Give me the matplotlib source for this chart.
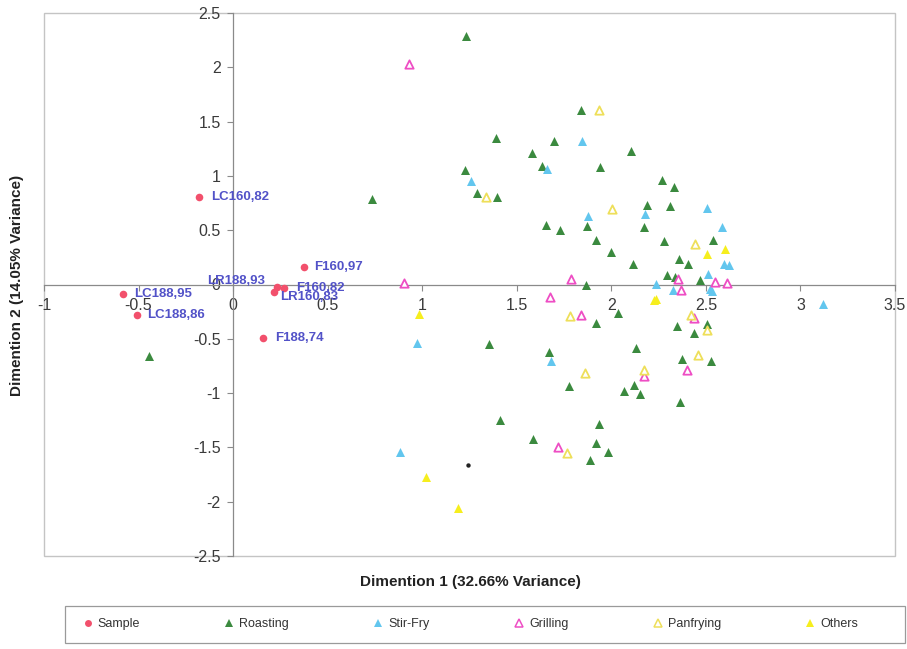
import matplotlib
matplotlib.use("Agg")
import matplotlib.pyplot as plt
from matplotlib.lines import Line2D
from matplotlib.patches import Rectangle
from matplotlib.ticker import FuncFormatter
import numpy as np

plt.rcParams['font.family'] = ['Liberation Sans', 'DejaVu Sans']
plt.rcParams['axes.unicode_minus'] = False

# ---- sample scores ----
sample_names = ["LC160,82", "F160,97", "LR188,93", "F160,82", "LR160,83",
                "LC188,95", "LC188,86", "F188,74"]
sample_x = [-0.180, 0.376, 0.231, 0.271, 0.217, -0.580, -0.510, 0.160]
sample_y = [0.808, 0.164, -0.026, -0.035, -0.072, -0.087, -0.281, -0.490]

# ---- cooking method scores ----
roasting_x = [1.231, 1.841, 1.389, 1.696, 1.581, 2.102, 1.634, 1.942, 1.228, 1.289,
              1.395, 0.737, 2.268, 2.333, 2.188, 2.308, 1.654, 1.731, 1.871, 2.174,
              1.921, 2.281, 2.538, 1.996, 2.113, 2.359, 2.404, 2.295, 2.339, 2.467,
              1.865, 2.034, 1.918, 2.347, 2.506, 2.436, 2.132, 1.351, 1.668, 2.374,
              2.528, 1.776, 2.119, 2.065, 2.152, 2.362, 1.409, 1.937, 1.586, 1.918,
              1.980, 1.887, -0.444]
roasting_y = [2.288, 1.607, 1.352, 1.320, 1.211, 1.225, 1.093, 1.085, 1.050, 0.840,
              0.803, 0.790, 0.962, 0.895, 0.732, 0.723, 0.548, 0.505, 0.536, 0.534,
              0.410, 0.398, 0.410, 0.299, 0.189, 0.235, 0.189, 0.090, 0.072, 0.044,
              -0.009, -0.267, -0.359, -0.385, -0.361, -0.442, -0.589, -0.548, -0.619, -0.688,
              -0.704, -0.935, -0.925, -0.978, -1.010, -1.080, -1.248, -1.286, -1.425, -1.459,
              -1.545, -1.619, -0.656]

stirfry_x = [1.845, 1.660, 1.258, 1.879, 2.176, 2.506, 2.586, 2.594, 2.621, 2.511,
             2.236, 2.325, 2.520, 2.534, 3.120, 0.975, 1.681, 0.880]
stirfry_y = [1.324, 1.064, 0.953, 0.631, 0.645, 0.704, 0.534, 0.193, 0.184, 0.099,
             0.005, -0.053, -0.041, -0.064, -0.182, -0.536, -0.702, -1.545]

grilling_x = [0.930, 0.902, 1.787, 2.354, 2.550, 2.612, 1.674, 2.370, 1.840, 2.436,
              2.401, 2.171, 1.716]
grilling_y = [2.028, 0.017, 0.055, 0.055, 0.023, 0.014, -0.118, -0.052, -0.278, -0.311,
              -0.785, -0.841, -1.494]

panfrying_x = [1.935, 1.339, 2.005, 2.444, 1.783, 2.422, 2.506, 2.459, 2.171, 1.861, 1.766]
panfrying_y = [1.607, 0.808, 0.695, 0.376, -0.290, -0.284, -0.422, -0.652, -0.790, -0.815, -1.556]

others_x = [2.504, 2.603, 2.228, 2.235, 0.984, 1.020, 1.187]
others_y = [0.284, 0.324, -0.147, -0.129, -0.272, -1.770, -2.061]

stray_x = [1.242]
stray_y = [-1.662]

x_ticks = [-1, -0.5, 0, 0.5, 1, 1.5, 2, 2.5, 3, 3.5]
y_ticks = [-2.5, -2, -1.5, -1, -0.5, 0, 0.5, 1, 1.5, 2, 2.5]

# ---- colours ----
c_sample = "#f2506c"
c_roast = "#3b8a3f"
c_stir = "#62c6ee"
c_grill = "#ee4ec4"
c_pan = "#eedf5a"
c_other = "#f6ee1e"
c_label = "#5252c8"

W, H = 907, 649
fig = plt.figure(figsize=(W / 100, H / 100), dpi=100)
fig.patch.set_facecolor("white")
ax = fig.add_axes([44 / W, 1 - 556 / H, (895 - 44) / W, (556 - 13) / H])
ax.set_xlim(-1, 3.5)
ax.set_ylim(-2.5, 2.5)

# plot-area frame
ax.add_patch(Rectangle((0, 0), 1, 1, transform=ax.transAxes, fill=False,
                       edgecolor="#c4c4c4", linewidth=1.0, clip_on=False, zorder=0))
for s in ("top", "right"):
    ax.spines[s].set_visible(False)
ax.spines["left"].set_position(("data", 0))
ax.spines["bottom"].set_position(("data", 0))
for s in ("left", "bottom"):
    ax.spines[s].set_color("#8a8a8a")
    ax.spines[s].set_linewidth(0.9)

ax.set_xticks(x_ticks)
ax.set_yticks(y_ticks)
fmt = FuncFormatter(lambda v, p: f"{v:g}")
ax.xaxis.set_major_formatter(fmt)
ax.yaxis.set_major_formatter(fmt)
ax.tick_params(axis="both", direction="out", length=4, width=0.8, color="#8a8a8a",
               labelsize=11.5, labelcolor="#3a3a3a")
ax.tick_params(axis="x", pad=6)
ax.tick_params(axis="y", pad=5)

ms = 42
ax.scatter(roasting_x, roasting_y, marker="^", s=ms, color=c_roast, linewidths=0, zorder=3)
ax.scatter(stirfry_x, stirfry_y, marker="^", s=ms, color=c_stir, linewidths=0, zorder=3)
ax.scatter(grilling_x, grilling_y, marker="^", s=36, facecolors="white", edgecolors=c_grill,
           linewidths=1.3, zorder=4)
ax.scatter(panfrying_x, panfrying_y, marker="^", s=36, facecolors="white", edgecolors=c_pan,
           linewidths=1.3, zorder=4)
ax.scatter(others_x, others_y, marker="^", s=ms, color=c_other, linewidths=0, zorder=3)
ax.scatter(stray_x, stray_y, marker="o", s=10, color="#222222", linewidths=0, zorder=3)
ax.scatter(sample_x, sample_y, marker="o", s=30, color=c_sample, linewidths=0, zorder=5)

# sample labels (offsets in pixels)
label_offsets = {
    "LC160,82": (12, 0), "F160,97": (10, 0), "LR188,93": (-70, 6),
    "F160,82": (12, 0), "LR160,83": (6, -5), "LC188,95": (11, 0),
    "LC188,86": (10, 0), "F188,74": (12, 0),
}
for name, x, y in zip(sample_names, sample_x, sample_y):
    ax.annotate(name, (x, y), xytext=label_offsets[name], textcoords="offset pixels",
                ha="left", va="center", fontsize=9.5, fontweight="bold",
                color=c_label, zorder=6)

fig.text(470 / W, 1 - 582 / H, "Dimention 1 (32.66% Variance)", ha="center", va="center",
         fontsize=11, fontweight="bold", color="#222222")
fig.text(17 / W, 1 - 285 / H, "Dimention 2 (14.05% Variance)", ha="center", va="center",
         rotation=90, fontsize=11, fontweight="bold", color="#222222")

# legend box
fig.patches.append(Rectangle((65 / W, 1 - 643 / H), 840 / W, 37 / H, transform=fig.transFigure,
                             fill=False, edgecolor="#9a9a9a", linewidth=0.9))

handles = [
    Line2D([], [], linestyle="none", marker="o", markersize=5, color=c_sample, markeredgewidth=0),
    Line2D([], [], linestyle="none", marker="^", markersize=6, color=c_roast, markeredgewidth=0),
    Line2D([], [], linestyle="none", marker="^", markersize=6, color=c_stir, markeredgewidth=0),
    Line2D([], [], linestyle="none", marker="^", markersize=5.5, markerfacecolor="white",
           markeredgecolor=c_grill, markeredgewidth=1.1),
    Line2D([], [], linestyle="none", marker="^", markersize=5.5, markerfacecolor="white",
           markeredgecolor=c_pan, markeredgewidth=1.1),
    Line2D([], [], linestyle="none", marker="^", markersize=6, color=c_other, markeredgewidth=0),
]
labels = ["Sample", "Roasting", "Stir-Fry", "Grilling", "Panfrying", "Others"]
leg = fig.legend(handles, labels, loc="center left", ncol=6,
                 bbox_to_anchor=(80 / W, 1 - 624 / H),
                 fontsize=9, frameon=False, borderpad=0, borderaxespad=0,
                 handlelength=1.2, handletextpad=0.2, columnspacing=6.55)
for t in leg.get_texts():
    t.set_color("#333333")

fig.savefig("out.png", dpi=100, facecolor="white")
